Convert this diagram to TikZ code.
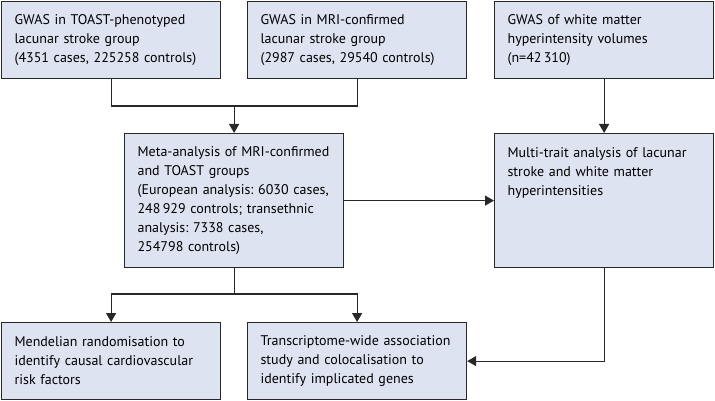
\documentclass[tikz,border=0pt]{standalone}
\usepackage{fontspec}
\setmainfont{PT Sans}
\usetikzlibrary{arrows.meta}
\definecolor{boxfill}{RGB}{221,227,240}
\definecolor{boxline}{RGB}{40,40,40}
\frenchspacing

\begin{document}
\begin{tikzpicture}[x=1pt,y=-1pt,
    box/.style={draw=boxline, fill=boxfill, line width=1.2pt, anchor=north west,
        minimum width=219pt, minimum height=77pt, inner xsep=13pt, inner ysep=0pt,
        text width=193pt, align=left, font=\fontsize{14}{19}\selectfont},
    tallbox/.style={box, minimum height=134pt},
    link/.style={draw=boxline, line width=1.2pt},
    arr/.style={link, -{Triangle[width=10pt,length=9pt]}}]
    \useasboundingbox (0,0) rectangle (715,401);

    % top row: the three GWAS
    \node[box] (toast) at (1,1) {GWAS in TOAST-phenotyped\\lacunar stroke group\\(4351 cases, 225258 controls)};
    \node[box] (mri) at (247,1) {GWAS in MRI-confirmed\\lacunar stroke group\\(2987 cases, 29540 controls)};
    \node[box] (wmh) at (494,1) {GWAS of white matter\\hyperintensity volumes\\(n=42\,310)};

    % middle row
    \node[tallbox] (meta) at (124,133) {Meta-analysis of MRI-confirmed\\and TOAST groups\\(European analysis: 6030 cases,\\248\,929 controls; transethnic\\analysis: 7338 cases,\\254798 controls)};
    \node[tallbox] (mtag) at (494,133) {\parbox[c][106pt][t]{193pt}{Multi-trait analysis of lacunar\\stroke and white matter\\hyperintensities}};

    % bottom row
    \node[box] (mr) at (1,322) {Mendelian randomisation to\\identify causal cardiovascular\\risk factors};
    \node[box] (twas) at (247,322) {Transcriptome-wide association\\study and colocalisation to\\identify implicated genes};

    \coordinate (topjoin) at (meta.north |- 0,106);
    \coordinate (botjoin) at (meta.south |- 0,294);

    \draw[link] (toast.south) |- (topjoin) -| (mri.south);
    \draw[arr] (topjoin) -- (meta.north);
    \draw[arr] (wmh.south) -- (mtag.north);
    \draw[arr] (meta.east) -- (mtag.west);
    \draw[link] (meta.south) -- (botjoin);
    \draw[arr] (botjoin) -| (mr.north);
    \draw[arr] (botjoin) -| (twas.north);
    \draw[arr] (mtag.south) |- (twas.east);
\end{tikzpicture}
\end{document}
